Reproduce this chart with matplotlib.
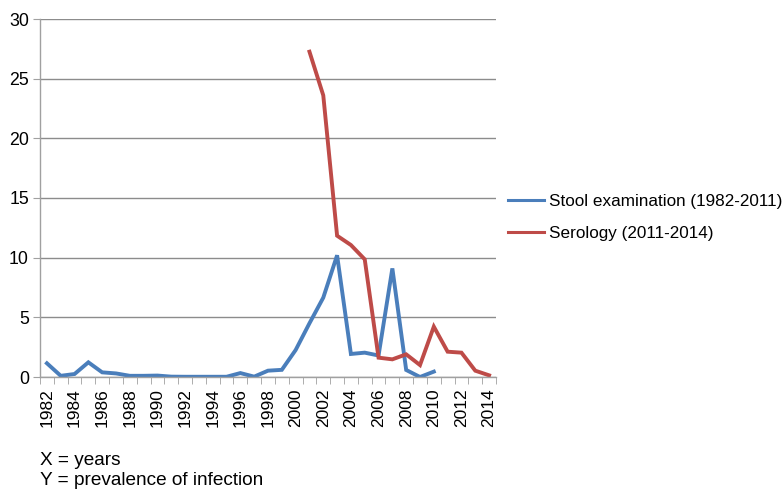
import numpy as np
import matplotlib.pyplot as plt

plt.rcParams['font.family'] = ['Liberation Sans', 'DejaVu Sans']

stool_years = list(range(1982, 2011))
stool_vals = [1.15, 0.1, 0.25, 1.23, 0.39, 0.3, 0.1, 0.1, 0.12, 0.03,
              0.02, 0.02, 0.02, 0.02, 0.33, 0.03, 0.53, 0.6, 2.26, 4.5,
              6.65, 10.2, 1.93, 2.04, 1.8, 9.1, 0.59, 0.0, 0.45]

sero_years = list(range(2001, 2015))
sero_vals = [27.26, 23.6, 11.84, 11.06, 9.86, 1.62, 1.48, 1.9, 1.0, 4.22,
             2.12, 2.04, 0.53, 0.14]

label_years = list(range(1982, 2015, 2))
y_ticks = [0, 5, 10, 15, 20, 25, 30]

blue = '#4a7ebb'
red = '#be4b48'
grid_c = '#8c8c8c'
axis_c = '#a0a0a0'

fig = plt.figure(figsize=(7.83, 4.9), dpi=100)
ax = fig.add_axes([40 / 783, 1 - 377 / 490, 456 / 783, 358 / 490])

l1, = ax.plot(stool_years, stool_vals, color=blue, lw=2.8, solid_joinstyle='miter',
              label='Stool examination (1982-2011)')
l2, = ax.plot(sero_years, sero_vals, color=red, lw=2.8, solid_joinstyle='miter',
              label='Serology (2011-2014)')

ax.set_xlim(1981.5, 2014.5)
ax.set_ylim(0, 30)
ax.set_yticks(y_ticks)
ax.yaxis.grid(True, color=grid_c, lw=1)
ax.set_axisbelow(True)

ax.set_xticks(label_years)
ax.set_xticklabels([str(y) for y in label_years], rotation=90, fontsize=12.5)
ax.set_xticks(np.arange(1981.5, 2015, 1), minor=True)
ax.tick_params(axis='x', which='major', length=0, pad=8)
ax.tick_params(axis='x', which='minor', length=5, color=axis_c, direction='out')
ax.tick_params(axis='y', length=5, color=axis_c, labelsize=12.8, pad=3)

for s in ['top', 'right']:
    ax.spines[s].set_visible(False)
for s in ['left', 'bottom']:
    ax.spines[s].set_color(axis_c)
    ax.spines[s].set_linewidth(1)

leg = fig.legend(handles=[l1, l2], loc='upper left', bbox_to_anchor=(501.5 / 783, 1 - 187.5 / 490),
                 frameon=False, fontsize=12.3, handlelength=2.1, handletextpad=0.3,
                 labelspacing=0.95, borderaxespad=0)
for h in leg.get_lines():
    h.set_linewidth(2.2)

fig.text(40 / 783, 1 - 460 / 490, 'X = years', fontsize=13.7, va='center')
fig.text(40 / 783, 1 - 480 / 490, 'Y = prevalence of infection', fontsize=13.7, va='center')

fig.savefig('out.png', dpi=100)
